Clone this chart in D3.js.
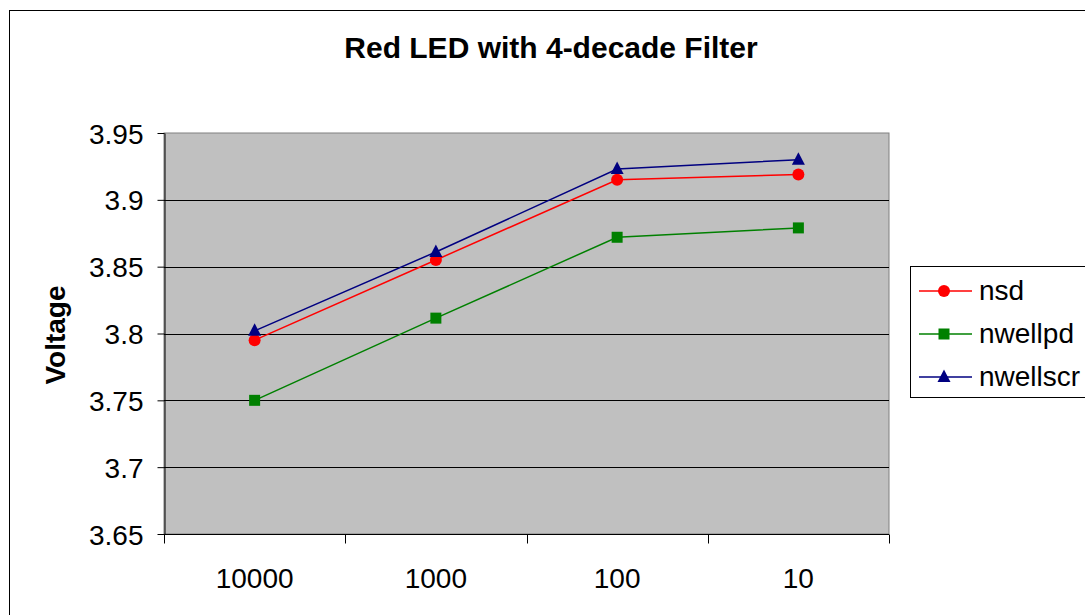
<!DOCTYPE html>
<html>
<head>
<meta charset="utf-8">
<script src="https://d3js.org/d3.v7.min.js"></script>
<style>
  body { margin: 0; background: #fff; }
  text { font-family: "Liberation Sans", Arial, sans-serif; fill: #000; }
</style>
</head>
<body>
<script>
  // data
  let categories = ["10000", "1000", "100", "10"];
  let nsd = [3.795, 3.855, 3.915, 3.919];
  let nwellpd = [3.750, 3.8115, 3.872, 3.879];
  let nwellscr = [3.802, 3.861, 3.923, 3.930];
  let yTicks = [3.65, 3.7, 3.75, 3.8, 3.85, 3.9, 3.95];

  let series = [
    {name: "nsd", values: nsd, color: "#FF0000", shape: "circle"},
    {name: "nwellpd", values: nwellpd, color: "#008000", shape: "square"},
    {name: "nwellscr", values: nwellscr, color: "#000080", shape: "triangle"}
  ];

  let W = 1085, H = 615;
  let svg = d3.select("body").append("svg").attr("width", W).attr("height", H);

  // outer chart border
  svg.append("rect").attr("x", 9.5).attr("y", 10.5).attr("width", W).attr("height", H)
    .attr("fill", "#fff").attr("stroke", "#000");

  let plot = {left: 164, right: 889, top: 133, bottom: 534};

  let x = d3.scaleBand().domain(categories).range([plot.left, plot.right]);
  let y = d3.scaleLinear().domain([3.65, 3.95]).range([plot.bottom, plot.top]);

  // plot background
  svg.append("rect").attr("x", plot.left).attr("y", plot.top)
    .attr("width", plot.right - plot.left).attr("height", plot.bottom - plot.top)
    .attr("fill", "#C0C0C0").attr("stroke", "#808080");

  // gridlines
  svg.append("g").selectAll("line").data(yTicks.slice(1, -1)).enter()
    .append("line")
    .attr("x1", plot.left).attr("x2", plot.right)
    .attr("y1", d => Math.round(y(d)) + 0.5).attr("y2", d => Math.round(y(d)) + 0.5)
    .attr("stroke", "#000");

  // y axis
  let yAxis = svg.append("g").attr("transform", `translate(${plot.left + 0.5},0)`)
    .call(d3.axisLeft(y).tickValues(yTicks).tickSize(7).tickSizeOuter(0).tickPadding(14)
      .tickFormat(d3.format("")));
  yAxis.selectAll("text").attr("font-size", 28).attr("dy", "0.36em")
    .style("font-family", "Liberation Sans, Arial, sans-serif");
  yAxis.select(".domain").attr("stroke", "#000");

  // x axis with ticks between categories
  let xAxis = svg.append("g").attr("transform", `translate(0,${plot.bottom + 0.5})`);
  xAxis.append("line").attr("x1", plot.left).attr("x2", plot.right).attr("stroke", "#000");
  let bounds = categories.map(c => x(c)).concat([plot.right]);
  xAxis.selectAll(".tk").data(bounds).enter().append("line")
    .attr("x1", d => Math.round(d) + 0.5).attr("x2", d => Math.round(d) + 0.5)
    .attr("y1", 0).attr("y2", 9).attr("stroke", "#000");
  xAxis.selectAll(".lbl").data(categories).enter().append("text")
    .attr("x", d => x(d) + x.bandwidth() / 2).attr("y", 53)
    .attr("text-anchor", "middle").attr("font-size", 28).text(d => d);

  // title + y label
  svg.append("text").attr("x", 551).attr("y", 58).attr("text-anchor", "middle")
    .attr("font-size", 30).attr("font-weight", "bold").text("Red LED with 4-decade Filter");
  svg.append("text").attr("transform", "translate(65,335) rotate(-90)")
    .attr("text-anchor", "middle").attr("font-size", 28).attr("font-weight", "bold").text("Voltage");

  let cx = c => x(c) + x.bandwidth() / 2;
  let line = d3.line().x((d, i) => cx(categories[i])).y(d => y(d));

  function marker(g, shape, color) {
    if (shape === "circle") g.append("circle").attr("r", 6).attr("fill", color);
    else if (shape === "square") g.append("rect").attr("x", -5.5).attr("y", -5.5)
      .attr("width", 11).attr("height", 11).attr("fill", color);
    else g.append("path").attr("d", "M0,-7.5L6.5,5L-6.5,5Z").attr("fill", color);
  }

  series.forEach(s => {
    svg.append("path").datum(s.values).attr("d", line)
      .attr("fill", "none").attr("stroke", s.color).attr("stroke-width", 1.5);
    s.values.forEach((v, i) => {
      let g = svg.append("g").attr("transform", `translate(${cx(categories[i])},${y(v)})`);
      marker(g, s.shape, s.color);
    });
  });

  // legend
  let leg = svg.append("g");
  leg.append("rect").attr("x", 910.5).attr("y", 266.5).attr("width", 200).attr("height", 131)
    .attr("fill", "#fff").attr("stroke", "#000");
  series.forEach((s, i) => {
    let ly = 291 + i * 43;
    leg.append("line").attr("x1", 919).attr("x2", 972).attr("y1", ly).attr("y2", ly)
      .attr("stroke", s.color).attr("stroke-width", 1.5);
    let g = leg.append("g").attr("transform", `translate(944,${ly})`);
    marker(g, s.shape, s.color);
    leg.append("text").attr("x", 979).attr("y", ly + 9).attr("font-size", 28).text(s.name);
  });
</script>
</body>
</html>
